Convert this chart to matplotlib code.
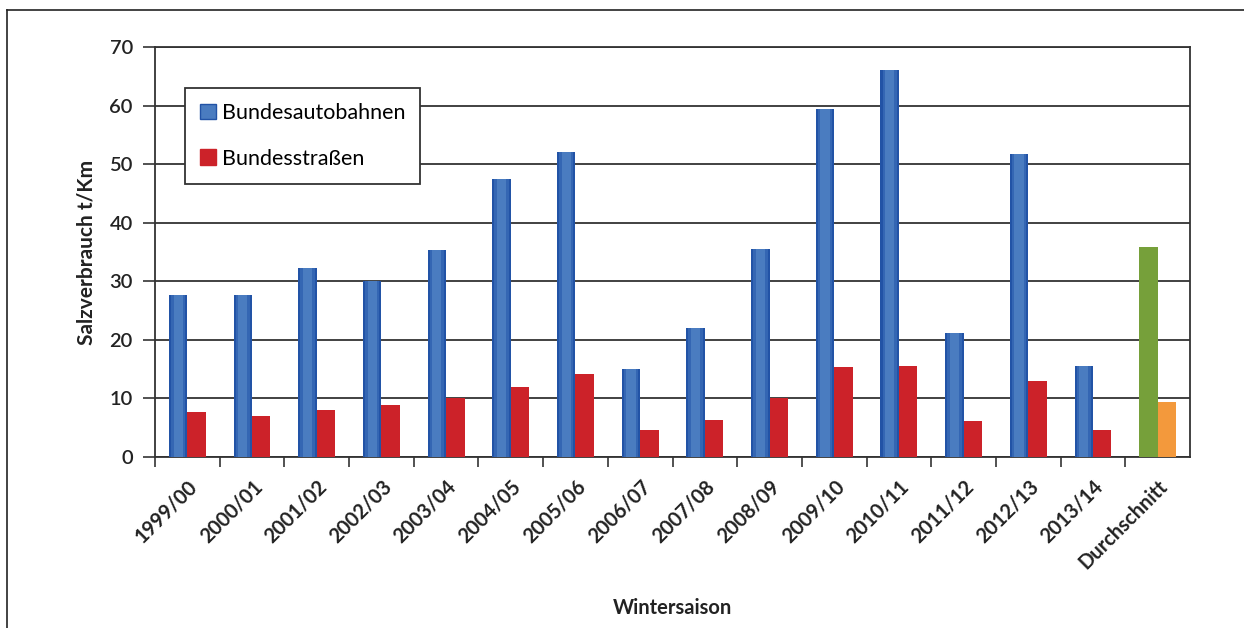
import numpy as np
import matplotlib.pyplot as plt
from matplotlib.lines import Line2D
from matplotlib.patches import Patch

plt.rcParams['font.family'] = ['Lato', 'DejaVu Sans']

saisons = ['1999/00', '2000/01', '2001/02', '2002/03', '2003/04', '2004/05',
           '2005/06', '2006/07', '2007/08', '2008/09', '2009/10', '2010/11',
           '2011/12', '2012/13', '2013/14', 'Durchschnitt']
autobahnen = [27.6, 27.6, 32.2, 30.0, 35.3, 47.5, 52.1, 15.0, 22.1, 35.5,
              59.4, 66.1, 21.1, 51.7, 15.6, 35.8]
bundesstrassen = [7.7, 7.0, 8.0, 8.9, 10.1, 12.0, 14.1, 4.6, 6.4, 10.0,
                  15.4, 15.6, 6.2, 13.0, 4.6, 9.4]

# Blautöne von außen nach innen (Verlauf der Autobahn-Säulen)
BLAU_STUFEN = [(1.0, '#2253a6'), (0.78, '#3466b3'), (0.5, '#4a7cc0')]
ROT = '#cc2229'
GRUEN, ORANGE = '#76a03a', '#f3993c'

fig = plt.figure(figsize=(12.44, 6.28), dpi=100)
ax = fig.add_axes([0.1246, 0.2723, 0.832, 0.6529])

x = np.arange(len(saisons))
w = 0.285
n = len(saisons) - 1

for faktor, farbe in BLAU_STUFEN:
    ax.bar(x[:n] - w / 2, autobahnen[:n], w * faktor, color=farbe, zorder=3)
ax.bar(x[:n] + w / 2, bundesstrassen[:n], w, color=ROT, zorder=3)

# Durchschnitt in eigenen Farben
ax.bar(x[n] - w / 2, autobahnen[n], w, color=GRUEN, zorder=3)
ax.bar(x[n] + w / 2, bundesstrassen[n], w, color=ORANGE, zorder=3)

ax.set_xlim(-0.5, len(saisons) - 0.5)
ax.set_ylim(0, 70)
ax.set_yticks(range(0, 71, 10))
ax.yaxis.grid(True, color='#333333', linewidth=1.3, zorder=1)
ax.set_axisbelow(True)

ax.set_xticks(x - 0.5)
ax.set_xticklabels([])
ax.tick_params(axis='x', direction='out', length=7, width=1.2, color='#333333')
ax.set_xticks(x, minor=True)
ax.set_xticklabels(saisons, minor=True, rotation=45, ha='right',
                   rotation_mode='anchor', fontsize=14.5, fontweight='bold',
                   color='#222222')
ax.tick_params(axis='x', which='minor', length=0, pad=14)
ax.tick_params(axis='y', direction='out', length=9, width=1.2,
               color='#333333', labelsize=14.5, pad=7, labelcolor='#222222')
for lbl in ax.get_yticklabels():
    lbl.set_fontweight('semibold')

for side in ['left', 'right', 'top', 'bottom']:
    ax.spines[side].set_color('#333333')
    ax.spines[side].set_linewidth(1.3)

ax.set_ylabel('Salzverbrauch t/Km', fontsize=15, fontweight='bold',
              color='#222222', labelpad=9)
ax.set_xlabel('Wintersaison', fontsize=14.5, fontweight='bold',
              color='#222222', labelpad=18)

handles = [Patch(facecolor=BLAU_STUFEN[2][1], edgecolor=BLAU_STUFEN[0][1]),
           Patch(facecolor=ROT, edgecolor=ROT)]
leg = ax.legend(handles, ['Bundesautobahnen', 'Bundesstraßen'],
                loc='upper left', bbox_to_anchor=(0.029, 0.9),
                fontsize=15.5, frameon=True, fancybox=False,
                edgecolor='#333333', framealpha=1, labelspacing=1.2,
                handlelength=0.75, handleheight=0.75, handletextpad=0.25,
                borderpad=0.7, borderaxespad=0)
leg.get_frame().set_linewidth(1.3)
leg.set_zorder(6)

# Rahmenlinien oben und links
fig.add_artist(Line2D([7 / 1244, 1], [1 - 10 / 628, 1 - 10 / 628],
                      color='#222222', linewidth=1.2))
fig.add_artist(Line2D([7 / 1244, 7 / 1244], [0, 1 - 10 / 628],
                      color='#222222', linewidth=1.2))

fig.savefig('out.png', dpi=100)
